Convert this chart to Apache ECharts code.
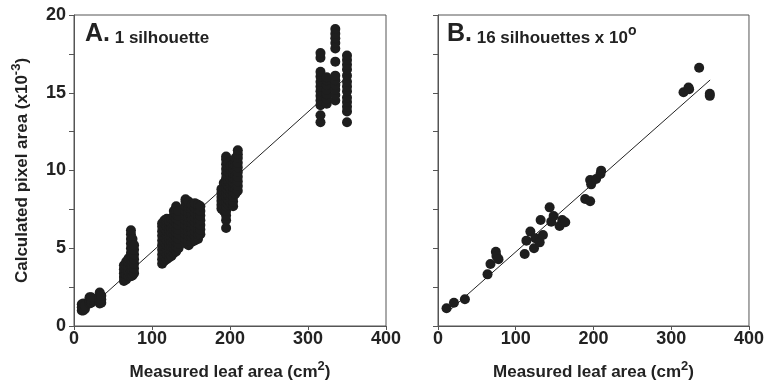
<!DOCTYPE html>
<html lang="en">
  <head>
    <meta charset="UTF-8" />
    <title>Leaf area</title>
    <script src="https://cdn.jsdelivr.net/npm/echarts/dist/echarts.min.js"></script>
    <style>
      body {
        margin: 0;
        background: #fff;
      }
      #chart {
        width: 767px;
        height: 386px;
      }
    </style>
  </head>
  <body>
    <div id="chart"></div>

    <script>
      // A. 1 silhouette: each column is [measured area, [calculated area x10^-3]]
      var smallLeaves = [
        [10, [1.0, 1.2, 1.4]],
        [12, [1.0, 1.15, 1.3, 1.45]],
        [14, [1.1, 1.3]],
        [20, [1.45, 1.6, 1.75, 1.85]],
        [22, [1.5, 1.7, 1.85]],
        [33, [1.45, 1.6, 1.8, 2.0, 2.15]],
        [35, [1.5, 1.7, 1.95]],
      ];
      var leaves70 = [
        [64, [2.9, 3.15, 3.4, 3.65, 3.9]],
        [67, [3.0, 3.3, 3.6, 3.9, 4.15]],
        [70, [3.2, 3.5, 3.8, 4.1, 4.35]],
        [73, [3.2, 3.5, 3.8, 4.1, 4.4, 4.7, 5.0, 5.3, 5.6, 5.9, 6.15]],
        [75, [3.25, 3.55, 3.85, 4.15, 4.45, 4.75, 5.05, 5.3, 5.6]],
        [77, [3.4, 3.7, 4.0, 4.3, 4.6, 4.9, 5.2]],
      ];
      var leaves120 = [
        [113, [4.0, 4.3, 4.6, 4.9, 5.2, 5.5, 5.8, 6.1, 6.4, 6.6]],
        [116, [4.2, 4.5, 4.8, 5.1, 5.4, 5.7, 6.0, 6.3, 6.6, 6.8]],
        [119, [4.3, 4.6, 4.9, 5.2, 5.5, 5.8, 6.1, 6.4, 6.7, 6.9]],
        [122, [4.4, 4.7, 5.0, 5.3, 5.6, 5.9, 6.2, 6.5, 6.7]],
        [125, [4.5, 4.8, 5.1, 5.4, 5.7, 6.0, 6.3, 6.6, 6.9]],
        [128, [4.7, 5.0, 5.3, 5.6, 5.9, 6.2, 6.5, 6.8, 7.1, 7.4]],
        [131, [4.8, 5.1, 5.4, 5.7, 6.0, 6.3, 6.6, 6.9, 7.2, 7.5, 7.7]],
        [134, [5.0, 5.3, 5.6, 5.9, 6.2, 6.5, 6.8, 7.1, 7.4]],
      ];
      var leaves150 = [
        [143, [5.3, 5.6, 5.9, 6.2, 6.5, 6.8, 7.1, 7.4, 7.7, 8.0, 8.15]],
        [147, [5.2, 5.5, 5.8, 6.1, 6.4, 6.7, 7.0, 7.3, 7.6, 7.9, 8.0]],
        [151, [5.4, 5.7, 6.0, 6.3, 6.6, 6.9, 7.2, 7.5, 7.8]],
        [155, [5.5, 5.8, 6.1, 6.4, 6.7, 7.0, 7.3, 7.6, 7.9]],
        [159, [5.6, 5.9, 6.2, 6.5, 6.8, 7.1, 7.4, 7.7, 7.8]],
        [162, [5.9, 6.2, 6.5, 6.8, 7.1, 7.4, 7.7]],
      ];
      var leaves200 = [
        [189, [7.55, 7.8, 8.05, 8.3, 8.55, 8.8]],
        [192, [7.4, 7.7, 8.0, 8.3, 8.6, 8.9, 9.2]],
        [195, [6.3, 6.8, 7.1, 7.4, 7.7, 8.0, 8.3, 8.6, 8.9, 9.2, 9.5, 9.8, 10.1, 10.4, 10.7, 10.9]],
        [198, [7.8, 8.1, 8.4, 8.7, 9.0, 9.3, 9.6, 9.9, 10.2, 10.5]],
        [201, [7.9, 8.2, 8.5, 8.8, 9.1, 9.4, 9.7, 10.0, 10.3]],
        [204, [7.7, 8.0, 8.3, 8.6, 8.9, 9.2, 9.5, 9.8, 10.1, 10.4]],
        [207, [8.5, 8.8, 9.1, 9.4, 9.7, 10.0, 10.3, 10.6, 10.8]],
        [210, [8.7, 9.0, 9.3, 9.6, 9.9, 10.2, 10.5, 10.8, 11.05, 11.3]],
      ];
      var leaves330 = [
        [316, [13.1, 13.55, 14.2, 14.5, 14.8, 15.1, 15.4, 15.7, 16.05, 16.35, 17.25, 17.55]],
        [324, [14.3, 14.6, 14.9, 15.2, 15.5, 15.8, 16.0]],
        [335, [14.5, 14.85, 15.2, 15.5, 15.8, 16.1, 17.0, 17.85, 18.2, 18.5, 18.8, 19.1]],
        [350, [13.1, 13.8, 14.1, 14.4, 14.7, 15.1, 15.4, 15.7, 16.1, 16.5, 16.8, 17.1, 17.4]],
      ];

      // B. 16 silhouettes x 10°
      var bArea = [11, 20.5, 34.6, 63.7, 67.5, 74.4, 75.2, 77.8, 111.5, 113.7, 118.8, 123.5, 125.2,
        130.8, 135, 132, 143.6, 145.7, 148.7, 156.4, 159.8, 163.7, 189.3, 195.7, 195.7, 197, 203.4,
        209.8, 209, 315.8, 322.2, 323, 335.9, 349.6, 349.6];
      var bPixel = [1.14, 1.5, 1.72, 3.32, 3.99, 4.78, 4.5, 4.3, 4.63, 5.49, 6.07, 5.0, 5.64,
        5.38, 5.85, 6.82, 7.63, 6.71, 7.07, 6.43, 6.82, 6.67, 8.17, 8.02, 9.39, 9.11, 9.45,
        9.99, 9.77, 15.03, 15.33, 15.22, 16.61, 14.94, 14.8];

      // regression lines, end points
      var fitA = [[10, 0.72], [350, 16.02]];
      var fitB = [[13, 0.92], [350, 15.82]];

      var pointsA = [];
      [smallLeaves, leaves70, leaves120, leaves150, leaves200, leaves330].forEach(function (cluster) {
        cluster.forEach(function (col) {
          col[1].forEach(function (v) {
            pointsA.push([col[0], v]);
          });
        });
      });
      var pointsB = bArea.map(function (x, i) {
        return [x, bPixel[i]];
      });

      var font = "Liberation Sans";
      var ink = "#1e1e1e";
      var axisGray = "#555";

      function xAxis(idx) {
        return {
          gridIndex: idx,
          type: "value",
          min: 0,
          max: 400,
          interval: 100,
          name: "{n|Measured leaf area (cm}{s|2}{n|)}",
          nameLocation: "middle",
          nameGap: 34,
          nameTextStyle: {
            rich: {
              n: { fontFamily: font, fontWeight: "bold", fontSize: 17, color: "#222", lineHeight: 24 },
              s: { fontFamily: font, fontWeight: "bold", fontSize: 13, color: "#222", lineHeight: 10, verticalAlign: "top" },
            },
          },
          axisLine: { lineStyle: { color: axisGray, width: 1 } },
          axisTick: { length: 4, lineStyle: { color: axisGray } },
          axisLabel: { margin: 4, fontFamily: font, fontWeight: "bold", fontSize: 18, color: "#222" },
          splitLine: { show: false },
        };
      }

      function yAxis(idx, labels) {
        return {
          gridIndex: idx,
          type: "value",
          min: 0,
          max: 20,
          interval: 2.5,
          axisLine: { lineStyle: { color: axisGray, width: 1 } },
          axisTick: { length: 5, lineStyle: { color: axisGray } },
          axisLabel: {
            show: labels,
            margin: 8,
            fontFamily: font,
            fontWeight: "bold",
            fontSize: 18,
            color: "#222",
            formatter: function (v) {
              return v % 5 === 0 ? String(v) : "";
            },
          },
          splitLine: { show: false },
        };
      }

      var chart = echarts.init(document.getElementById("chart"));

      var yName = xAxis(0).nameTextStyle.rich;

      var option = {
        animation: false,
        backgroundColor: "#fff",
        grid: [
          { left: 74, top: 15, width: 312, height: 311, show: true, borderColor: axisGray, borderWidth: 1 },
          { left: 438, top: 15, width: 312, height: 311, show: true, borderColor: axisGray, borderWidth: 1 },
        ],
        xAxis: [xAxis(0), xAxis(1)],
        yAxis: [
          Object.assign(yAxis(0, true), {
            name: "{n|Calculated pixel area (x10}{s|-3}{n|)}",
            nameLocation: "middle",
            nameGap: 40,
            nameTextStyle: { rich: yName },
          }),
          yAxis(1, false),
        ],
        graphic: [
          {
            type: "text",
            left: 85,
            top: 22,
            style: {
              text: "{a|A.}{b| 1 silhouette}",
              rich: {
                a: { fontFamily: font, fontWeight: "bold", fontSize: 25, lineHeight: 23, verticalAlign: "bottom", fill: "#222" },
                b: { fontFamily: font, fontWeight: "bold", fontSize: 17, lineHeight: 17, verticalAlign: "bottom", fill: "#222" },
              },
            },
          },
          {
            type: "text",
            left: 447,
            top: 22,
            style: {
              text: "{a|B.}{b| 16 silhouettes x 10}{s|o}",
              rich: {
                a: { fontFamily: font, fontWeight: "bold", fontSize: 25, lineHeight: 23, verticalAlign: "bottom", fill: "#222" },
                b: { fontFamily: font, fontWeight: "bold", fontSize: 17, lineHeight: 17, verticalAlign: "bottom", fill: "#222" },
                s: { fontFamily: font, fontWeight: "bold", fontSize: 14, lineHeight: 10, verticalAlign: "top", fill: "#222" },
              },
            },
          },
        ],
        series: [
          {
            type: "line",
            xAxisIndex: 0,
            yAxisIndex: 0,
            data: fitA,
            showSymbol: false,
            lineStyle: { color: "#222", width: 1 },
            z: 1,
          },
          {
            type: "scatter",
            xAxisIndex: 0,
            yAxisIndex: 0,
            data: pointsA,
            symbolSize: 10,
            itemStyle: { color: ink, opacity: 1 },
            z: 2,
          },
          {
            type: "line",
            xAxisIndex: 1,
            yAxisIndex: 1,
            data: fitB,
            showSymbol: false,
            lineStyle: { color: "#222", width: 1 },
            z: 1,
          },
          {
            type: "scatter",
            xAxisIndex: 1,
            yAxisIndex: 1,
            data: pointsB,
            symbolSize: 10,
            itemStyle: { color: ink, opacity: 1 },
            z: 2,
          },
        ],
      };

      chart.setOption(option);
    </script>
  </body>
</html>
